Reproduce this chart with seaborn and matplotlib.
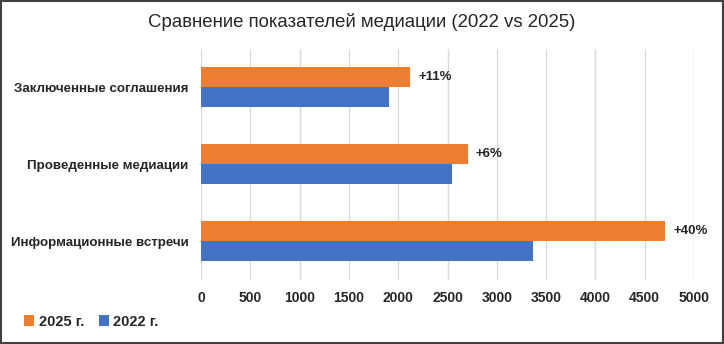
import matplotlib
matplotlib.use("Agg")
import matplotlib.pyplot as plt
import seaborn as sns
import pandas as pd
from matplotlib.patches import Rectangle, Patch

categories = ["Заключенные соглашения", "Проведенные медиации", "Информационные встречи"]
years = ["2025 г.", "2022 г."]
values_2025 = [2120, 2705, 4710]
values_2022 = [1905, 2545, 3370]
growth_labels = ["+11%", "+6%", "+40%"]
xticks = [0, 500, 1000, 1500, 2000, 2500, 3000, 3500, 4000, 4500, 5000]
title = "Сравнение показателей медиации (2022 vs 2025)"

colors = ["#ED7D31", "#4472C4"]

df = pd.DataFrame({
    "category": categories * 2,
    "year": [years[0]] * 3 + [years[1]] * 3,
    "value": values_2025 + values_2022,
})

sns.set_style("white")
plt.rcParams["font.family"] = ["Liberation Sans", "DejaVu Sans"]

fig = plt.figure(figsize=(7.24, 3.44), dpi=100)
ax = fig.add_axes([0.2776, 0.1875, 0.6810, 0.6715])

sns.barplot(data=df, y="category", x="value", hue="year", order=categories,
            hue_order=years, palette=colors, orient="h", width=0.52,
            saturation=1, linewidth=0, edgecolor="none", ax=ax, legend=False)

ax.set_xlim(0, 5000)
ax.set_xticks(xticks)
ax.set_xticklabels([str(t) for t in xticks], fontsize=10, fontweight="bold")
ax.set_yticklabels(categories, fontsize=9.6, fontweight="bold")
ax.tick_params(axis="y", length=0, pad=9)
ax.tick_params(axis="x", length=0, pad=8)
ax.grid(axis="x", color="#D9D9D9", linewidth=1)
ax.set_axisbelow(True)
for s in ax.spines.values():
    s.set_visible(False)
ax.set_xlabel("")
ax.set_ylabel("")

# growth labels next to 2025 bars
bars_2025 = ax.containers[0]
for bar, lab in zip(bars_2025, growth_labels):
    ax.annotate(lab, (bar.get_width(), bar.get_y() + bar.get_height() / 2),
                xytext=(8, 0), textcoords="offset pixels",
                va="center", ha="left", fontsize=9.5, fontweight="bold")

fig.suptitle(title, x=0.5, y=0.962, fontsize=13.4, fontweight="normal")

handles = [Patch(facecolor=c, edgecolor="none") for c in colors]
fig.legend(handles, years, loc="center left", bbox_to_anchor=(0.015, 0.065),
           ncol=2, frameon=False, prop={"size": 10.5, "weight": "bold"},
           handlelength=0.7, handleheight=0.7, handletextpad=0.3, columnspacing=1.0)

fig.patches.append(Rectangle((0.001, 0.002), 0.997, 0.995, transform=fig.transFigure,
                             fill=False, edgecolor="#404040", linewidth=1.5))

fig.savefig("out.png", dpi=100)
